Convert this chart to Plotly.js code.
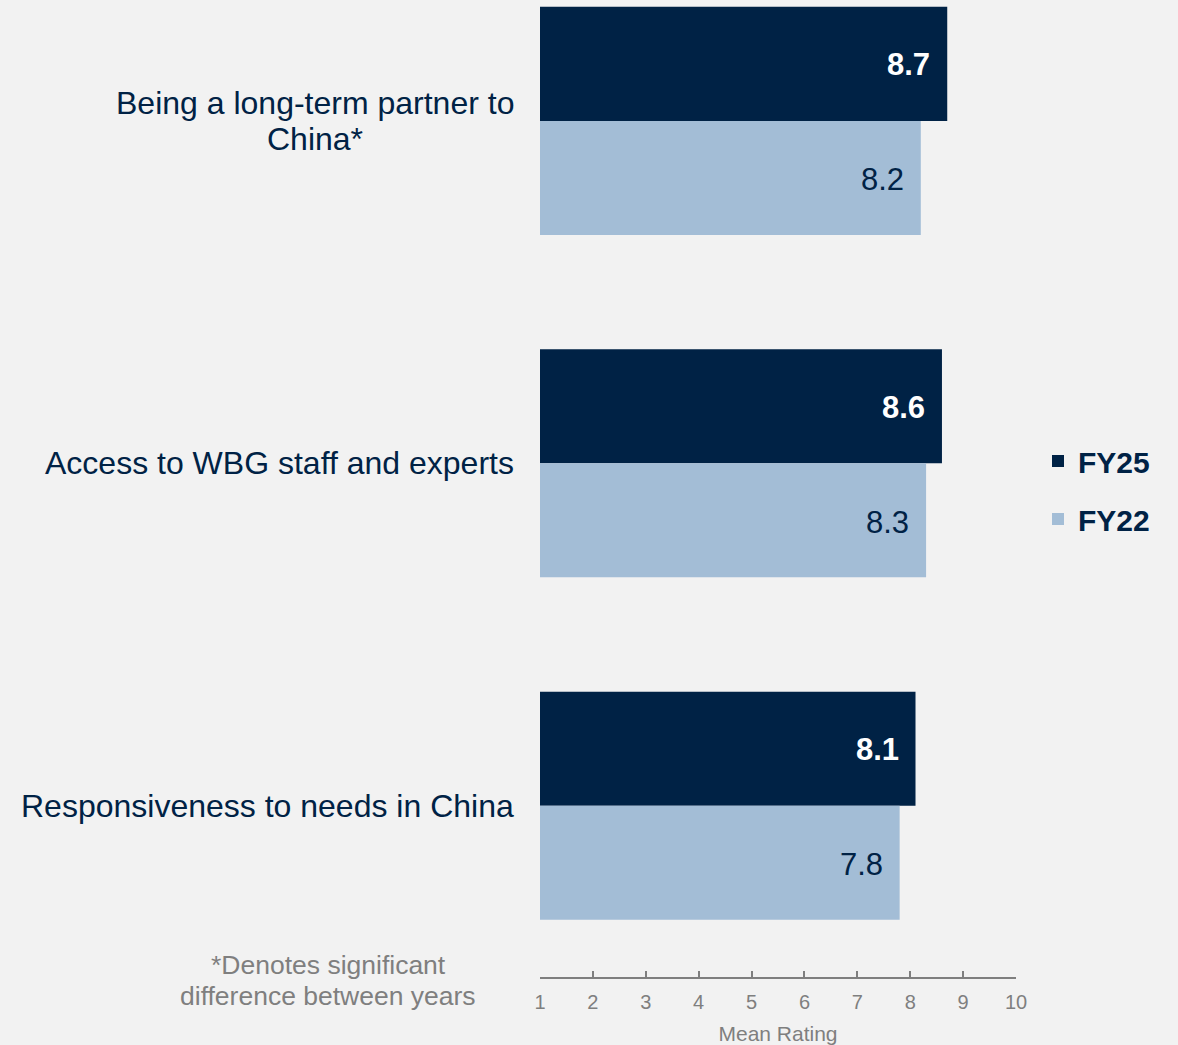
<!DOCTYPE html>
<html>
<head>
<meta charset="utf-8">
<script src="https://cdn.plot.ly/plotly-3.0.1.min.js"></script>
<style>
html,body{margin:0;padding:0;background:#f2f2f2;}
#chart{width:1178px;height:1045px;}
</style>
</head>
<body>
<div id="chart"></div>
<script>
const categories = ["Being a long-term partner to<br>China*", "Access to WBG staff and experts", "Responsiveness to needs in China"];
const fy25 = [8.7, 8.6, 8.1];
const fy22 = [8.2, 8.3, 7.8];
const seriesNames = ["FY25", "FY22"];
const tickVals = [1, 2, 3, 4, 5, 6, 7, 8, 9, 10];
const footnote = "*Denotes significant<br>difference between years";
const axisTitle = "Mean Rating";

const NAVY = "#002245";
const LIGHT = "#a3bdd6";
const GRAY = "#7f7f7f";
const FONT = "Liberation Sans, Arial, sans-serif";
const CAT_SIZE = 32;

const traces = [
  {type: "bar", orientation: "h", name: seriesNames[0], y: categories, x: fy25.map(v => v - 1),
   base: 1, marker: {color: NAVY}, legendgroup: "a", hoverinfo: "skip"},
  {type: "bar", orientation: "h", name: seriesNames[1], y: categories, x: fy22.map(v => v - 1),
   base: 1, marker: {color: LIGHT}, legendgroup: "b", hoverinfo: "skip"}
];

const ctx = document.createElement("canvas").getContext("2d");
ctx.font = CAT_SIZE + "px 'Liberation Sans', Arial, sans-serif";

const annotations = [];
categories.forEach((c, i) => {
  const lines = c.split("<br>");
  const blockW = Math.max(...lines.map(l => ctx.measureText(l).width));
  lines.forEach((ln, k) => {
    annotations.push({xref: "paper", yref: "y", x: 0, y: c, xanchor: "center", yanchor: "middle",
      xshift: -26 - blockW / 2, yshift: ((lines.length - 1) / 2 - k) * 36, text: ln, showarrow: false,
      font: {family: FONT, size: CAT_SIZE, color: NAVY}});
  });
  annotations.push({xref: "x", yref: "y", x: fy25[i], y: c, xanchor: "right", yanchor: "middle",
    xshift: -15, yshift: 56, text: fy25[i].toFixed(1), showarrow: false,
    font: {family: FONT, size: 31, color: "#ffffff", weight: "bold"}});
  annotations.push({xref: "x", yref: "y", x: fy22[i], y: c, xanchor: "right", yanchor: "middle",
    xshift: -15, yshift: -59, text: fy22[i].toFixed(1), showarrow: false,
    font: {family: FONT, size: 31, color: NAVY}});
});
const fnLines = footnote.split("<br>");
fnLines.forEach((ln, k) => {
  annotations.push({xref: "paper", yref: "paper", x: (328 - 540) / 476, y: 0, xanchor: "center", yanchor: "middle",
    yshift: 12 - k * 31, text: ln, showarrow: false,
    font: {family: FONT, size: 26.5, color: GRAY}});
});

const layout = {
  width: 1178, height: 1045,
  paper_bgcolor: "#f2f2f2", plot_bgcolor: "#f2f2f2",
  margin: {l: 540, r: 162, t: 0, b: 68, pad: 0},
  barmode: "group", bargap: 0.334, bargroupgap: 0,
  font: {family: FONT, color: NAVY},
  xaxis: {range: [1, 10], tickvals: tickVals, ticks: "inside", ticklen: 6, tickwidth: 2,
    tickcolor: GRAY, showline: true, linecolor: GRAY, linewidth: 2, showgrid: false,
    zeroline: false, ticklabelstandoff: 6,
    tickfont: {family: FONT, size: 20, color: GRAY},
    title: {text: axisTitle, font: {family: FONT, size: 21, color: GRAY}, standoff: 15}},
  yaxis: {type: "category", range: [2.5, -0.353], showticklabels: false, showgrid: false,
    zeroline: false, showline: false, ticks: ""},
  showlegend: true,
  legend: {x: (1038 - 540) / 476, xanchor: "left", y: 1 - 490 / 977, yanchor: "middle",
    traceorder: "grouped", tracegroupgap: 16, bgcolor: "rgba(0,0,0,0)",
    font: {family: FONT, size: 30, color: NAVY, weight: "bold"}},
  annotations: annotations
};

Plotly.newPlot("chart", traces, layout, {displayModeBar: false, staticPlot: true});
</script>
</body>
</html>
